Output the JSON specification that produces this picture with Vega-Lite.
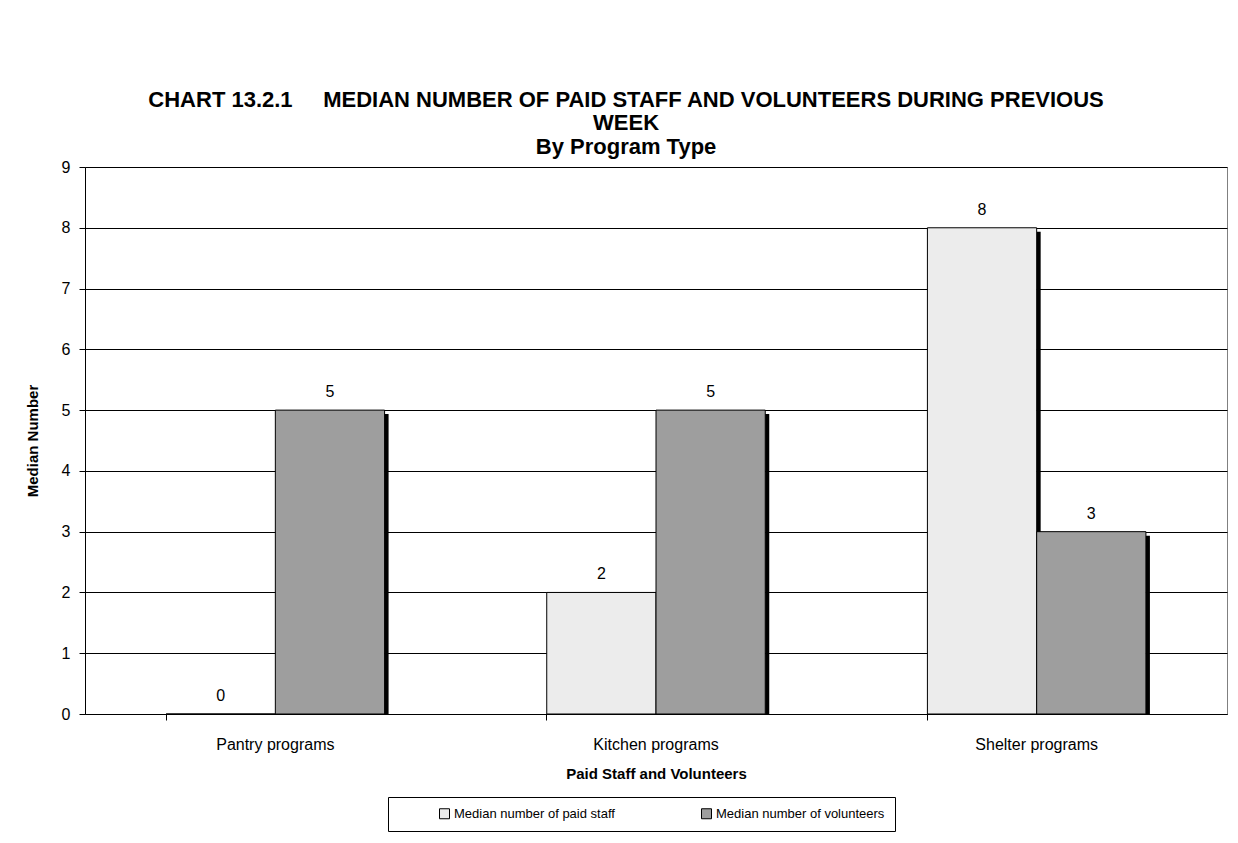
{
  "$schema": "https://vega.github.io/schema/vega-lite/v6.json",
  "width": 1142,
  "height": 547,
  "autosize": {"type": "none"},
  "padding": {"left": 85, "top": 167, "right": 11, "bottom": 129},
  "background": "white",
  "title": {
    "text": ["CHART 13.2.1\u00a0\u00a0\u00a0\u00a0\u00a0MEDIAN NUMBER OF PAID STAFF AND VOLUNTEERS DURING PREVIOUS", "WEEK"],
    "subtitle": "By Program Type",
    "font": "Liberation Sans",
    "fontSize": 22,
    "fontWeight": "bold",
    "color": "black",
    "lineHeight": 23,
    "subtitleFont": "Liberation Sans",
    "subtitleFontSize": 22,
    "subtitleFontWeight": "bold",
    "subtitleColor": "black",
    "subtitleLineHeight": 23,
    "subtitlePadding": 2,
    "offset": 0,
    "anchor": "middle",
    "frame": "bounds"
  },
  "data": {
    "values": [
      {"program": "Pantry programs", "series": "Median number of paid staff", "value": 0},
      {"program": "Pantry programs", "series": "Median number of volunteers", "value": 5},
      {"program": "Kitchen programs", "series": "Median number of paid staff", "value": 2},
      {"program": "Kitchen programs", "series": "Median number of volunteers", "value": 5},
      {"program": "Shelter programs", "series": "Median number of paid staff", "value": 8},
      {"program": "Shelter programs", "series": "Median number of volunteers", "value": 3}
    ]
  },
  "encoding": {
    "x": {
      "field": "program",
      "type": "nominal",
      "sort": ["Pantry programs", "Kitchen programs", "Shelter programs"],
      "scale": {"paddingInner": 0.426, "paddingOuter": 0.213},
      "axis": {
        "title": "Paid Staff and Volunteers",
        "labelAngle": 0,
        "bandPosition": 0,
        "labelFontSize": 16,
        "labelPadding": 16,
        "tickSize": 6,
        "titleFontSize": 15,
        "titlePadding": 14
      }
    },
    "y": {
      "field": "value",
      "type": "quantitative",
      "scale": {"domain": [0, 9], "nice": false},
      "axis": {
        "title": "Median Number",
        "values": [0, 1, 2, 3, 4, 5, 6, 7, 8, 9],
        "grid": true,
        "labelFontSize": 16,
        "labelPadding": 9,
        "tickSize": 6,
        "titleFontSize": 15,
        "titlePadding": 21
      }
    }
  },
  "layer": [
    {
      "transform": [{"filter": "datum.series === 'Median number of paid staff' && datum.value > 0"}],
      "mark": {"type": "rule", "stroke": "black", "strokeWidth": 4, "xOffset": 2, "yOffset": 4, "clip": true},
      "encoding": {
        "x": {
          "field": "program",
          "type": "nominal",
          "sort": ["Pantry programs", "Kitchen programs", "Shelter programs"],
          "bandPosition": 0.5
        },
        "y2": {"datum": 0}
      }
    },
    {
      "mark": {"type": "bar", "stroke": "black", "strokeWidth": 1},
      "encoding": {
        "xOffset": {
          "field": "series",
          "type": "nominal",
          "sort": ["Median number of paid staff", "Median number of volunteers"],
          "scale": {"paddingInner": 0, "paddingOuter": 0}
        },
        "fill": {
          "field": "series",
          "type": "nominal",
          "sort": ["Median number of paid staff", "Median number of volunteers"],
          "scale": {"range": ["#ececec", "#9e9e9e"]},
          "legend": {
            "title": null,
            "orient": "none",
            "legendX": 303,
            "legendY": 630,
            "direction": "horizontal",
            "columns": 2,
            "columnPadding": 45,
            "symbolType": "square",
            "symbolSize": 100,
            "symbolStrokeColor": "black",
            "symbolStrokeWidth": 1,
            "symbolOffset": 40,
            "labelFontSize": 13,
            "labelOffset": 3,
            "labelColor": "black",
            "labelLimit": 300,
            "padding": 10,
            "strokeColor": "black",
            "fillColor": "white"
          }
        }
      }
    },
    {
      "transform": [{"filter": "datum.series === 'Median number of volunteers' && datum.value > 0"}],
      "mark": {"type": "rule", "stroke": "black", "strokeWidth": 4, "xOffset": 2, "yOffset": 4, "clip": true},
      "encoding": {
        "x": {
          "field": "program",
          "type": "nominal",
          "sort": ["Pantry programs", "Kitchen programs", "Shelter programs"],
          "bandPosition": 1
        },
        "y2": {"datum": 0}
      }
    },
    {
      "mark": {"type": "text", "baseline": "bottom", "dy": -10, "fontSize": 16, "color": "black"},
      "encoding": {
        "xOffset": {
          "field": "series",
          "type": "nominal",
          "sort": ["Median number of paid staff", "Median number of volunteers"],
          "scale": {"paddingInner": 0, "paddingOuter": 0}
        },
        "text": {"field": "value", "type": "quantitative"}
      }
    }
  ],
  "config": {
    "font": "Liberation Sans",
    "view": {"stroke": "#808080", "strokeWidth": 1},
    "axis": {
      "domainColor": "black",
      "tickColor": "black",
      "gridColor": "black",
      "gridWidth": 1,
      "labelColor": "black",
      "titleColor": "black",
      "labelFont": "Liberation Sans",
      "titleFont": "Liberation Sans",
      "titleFontWeight": "bold"
    },
    "legend": {"labelFont": "Liberation Sans"}
  }
}
